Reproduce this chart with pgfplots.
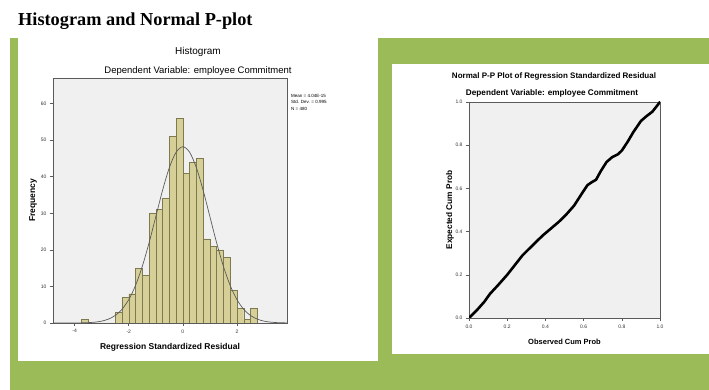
\documentclass[border=0pt]{standalone}
\usepackage{fontspec}
\setmainfont{Liberation Sans}
\newfontfamily\titlefont{Liberation Serif}
\usepackage{pgfplots}
\pgfplotsset{compat=1.18}
\definecolor{pgreen}{RGB}{155,187,89}
\definecolor{plotbg}{RGB}{240,240,240}
\definecolor{barfill}{RGB}{214,208,152}
\definecolor{baredge}{RGB}{125,122,80}
\definecolor{axisgray}{RGB}{90,90,90}
\pgfplotsset{spss/.style={
  scale only axis, anchor=south west,
  axis background/.style={fill=plotbg},
  axis line style={axisgray, line width=0.6pt},
  tick align=outside, xtick pos=bottom, ytick pos=left,
  major tick length=3pt, tick style={axisgray, line width=0.5pt},
  tick label style={font=\fontsize{5}{6}\selectfont, text=black!80},
  /pgf/number format/assume math mode=true,
  label style={font=\bfseries\fontsize{7.5}{9}\selectfont},
}}
\begin{document}
\begin{tikzpicture}[x=1pt,y=1pt]
\fill[white] (0,0) rectangle (709,390);
\fill[pgreen] (10,0) rectangle (709,352);
\fill[white] (18,29) rectangle (378,352);
\fill[white] (392,36) rectangle (709,326);
\node[anchor=base west, font=\titlefont\bfseries\fontsize{18.3}{20}\selectfont, inner sep=0] at (18,364) {Histogram and Normal P-plot};

\begin{axis}[spss, at={(53pt,67pt)}, width=234pt, height=245pt,
  xmin=-4.8, xmax=3.85, ymin=0, ymax=67,
  xtick={-4,-2,0,2}, ytick={0,10,20,30,40,50,60},
  xlabel={Regression Standardized Residual},
  ylabel={Frequency},
  label style={font=\bfseries\fontsize{8.5}{10}\selectfont},
  xlabel style={at={(axis description cs:0.5,-0.098)}, anchor=center},
  ylabel style={at={(axis description cs:-0.085,0.5)}, anchor=center},
]
\addplot[ybar interval, fill=barfill, draw=baredge, line width=0.4pt] coordinates {
(-3.75,1) (-3.5,0) (-3.25,0) (-3,0) (-2.75,0) (-2.5,3) (-2.25,7) (-2,8)
(-1.75,15) (-1.5,13) (-1.25,30) (-1,31) (-0.75,34) (-0.5,51) (-0.25,56)
(0,41) (0.25,44) (0.5,45) (0.75,23) (1,21) (1.25,20) (1.5,18) (1.75,9)
(2,4) (2.25,1) (2.5,4) (2.75,0)};
\addplot[smooth, axisgray, line width=0.7pt] coordinates {
(-4.8,0.0003) (-4.5,0.002) (-4.25,0.005) (-4,0.015) (-3.75,0.04) (-3.5,0.10)
(-3.25,0.23) (-3,0.51) (-2.75,1.06) (-2.5,2.05) (-2.25,3.74) (-2,6.39)
(-1.75,10.26) (-1.5,15.48) (-1.25,21.89) (-1,29.09) (-0.75,36.28) (-0.5,42.48)
(-0.25,46.70) (0,48.2) (0.25,46.70) (0.5,42.48) (0.75,36.28) (1,29.09)
(1.25,21.89) (1.5,15.48) (1.75,10.26) (2,6.39) (2.25,3.74) (2.5,2.05)
(2.75,1.06) (3,0.51) (3.25,0.23) (3.5,0.10) (3.85,0.027)};
\end{axis}
\node[font=\fontsize{10}{11}\selectfont] at (198,338) {Histogram};
\node[font=\fontsize{9.5}{11}\selectfont] at (198,319) {Dependent Variable: employee Commitment};
\node[anchor=west, font=\fontsize{4.5}{5}\selectfont, inner sep=0] at (291,294) {Mean = 4.04E-15};
\node[anchor=west, font=\fontsize{4.5}{5}\selectfont, inner sep=0] at (291,288) {Std. Dev. = 0.995};
\node[anchor=west, font=\fontsize{4.5}{5}\selectfont, inner sep=0] at (291,281) {N = 480};

\begin{axis}[spss, at={(469pt,72pt)}, width=191pt, height=216pt,
  xmin=0, xmax=1, ymin=0, ymax=1,
  xtick={0,0.2,0.4,0.6,0.8,1}, ytick={0,0.2,0.4,0.6,0.8,1},
  xticklabel style={/pgf/number format/.cd, fixed, fixed zerofill, precision=1},
  yticklabel style={/pgf/number format/.cd, fixed, fixed zerofill, precision=1},
  xlabel={Observed Cum Prob},
  ylabel={Expected Cum Prob},
  ylabel style={font=\bfseries\fontsize{8.3}{9}\selectfont},
  xlabel style={at={(axis description cs:0.5,-0.111)}, anchor=center},
  ylabel style={at={(axis description cs:-0.1,0.5)}, anchor=center},
]
\addplot[black, line width=2.6pt, line join=round, line cap=round] coordinates {
(0,0) (0.04,0.035) (0.08,0.075) (0.11,0.112) (0.15,0.15) (0.2,0.2)
(0.24,0.245) (0.28,0.29) (0.32,0.325) (0.36,0.36) (0.39,0.385) (0.43,0.415)
(0.47,0.445) (0.51,0.48) (0.55,0.52) (0.59,0.575) (0.62,0.615) (0.645,0.63)
(0.665,0.64) (0.69,0.68) (0.72,0.722) (0.75,0.745) (0.78,0.758) (0.8,0.775)
(0.83,0.815) (0.86,0.86) (0.9,0.912) (0.93,0.935) (0.96,0.955) (1,1)};
\end{axis}
\node[font=\bfseries\fontsize{8}{9}\selectfont] at (554,314) {Normal P-P Plot of Regression Standardized Residual};
\node[font=\bfseries\fontsize{8.2}{9}\selectfont] at (552,297) {Dependent Variable: employee Commitment};
\end{tikzpicture}
\end{document}
